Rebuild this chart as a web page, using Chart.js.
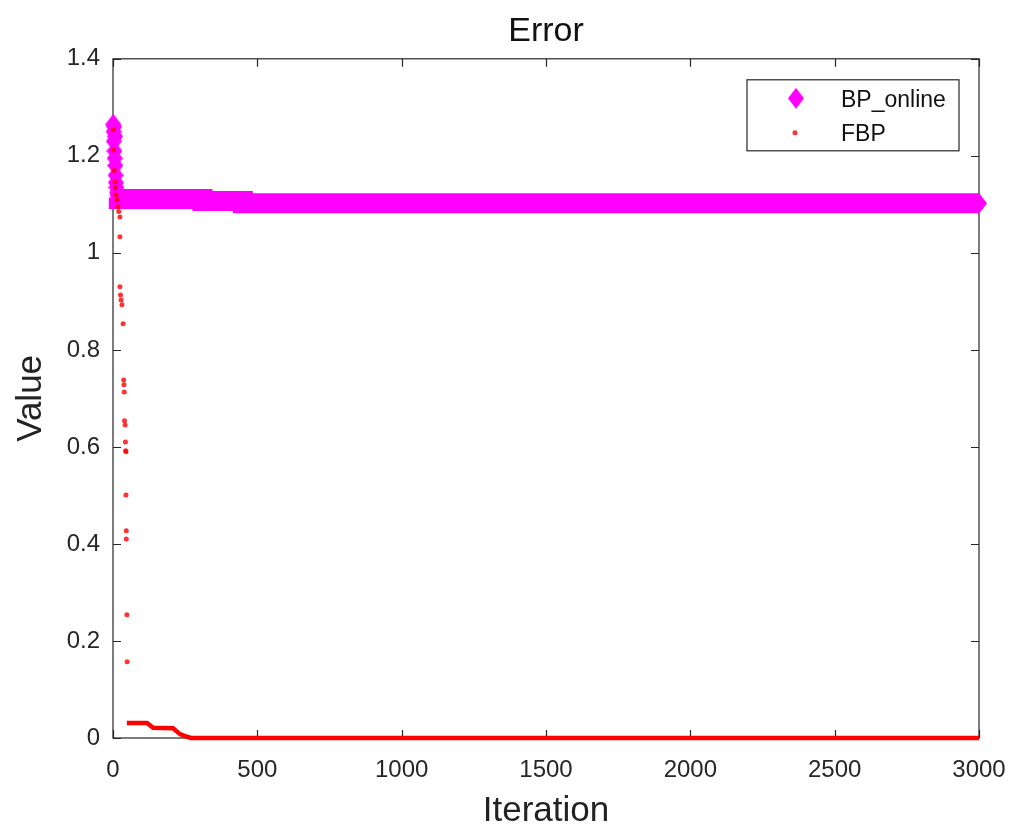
<!DOCTYPE html>
<html>
<head>
<meta charset="utf-8">
<script src="https://cdn.jsdelivr.net/npm/chart.js@4"></script>
<style>
  body { margin: 0; background: #fff; }
  #wrap { width: 1012px; height: 828px; }
</style>
</head>
<body>
<div id="wrap"><canvas id="errChart" width="1012" height="828"></canvas></div>
<script>
// BP_online : premières itérations (losanges isolés)
const bpEarlyIter = [1, 2, 3, 4, 5, 6, 7, 8, 9, 10, 12, 14, 16, 18, 20];
const bpEarlyVal  = [1.265, 1.25, 1.23, 1.26, 1.21, 1.195, 1.24, 1.18, 1.16, 1.145, 1.135, 1.125, 1.12, 1.117, 1.115];
// BP_online : palier (bande épaisse de losanges)
const bpBandIter = [20, 310, 450, 560, 3000];
const bpBandVal  = [1.114, 1.111, 1.107, 1.102, 1.102];

// FBP : points dispersés au début
const fbpEarlyIter = [0, 1, 4, 7, 8, 10, 14, 17, 20, 24, 24, 24, 26, 28, 31, 35, 37, 38, 39, 40, 42, 43, 44, 45, 45, 46, 46, 48, 49];
const fbpEarlyVal  = [1.254, 1.212, 1.17, 1.146, 1.134, 1.12, 1.109, 1.095, 1.085, 1.074, 1.033, 0.930, 0.913, 0.903, 0.893, 0.854, 0.738, 0.728, 0.713, 0.654, 0.645, 0.610, 0.592, 0.590, 0.501, 0.427, 0.410, 0.254, 0.157];
// FBP : traîne (points denses)
const fbpTailIter = [48, 118, 139, 208, 232, 250, 270, 3000];
const fbpTailVal  = [0.031, 0.031, 0.021, 0.020, 0.008, 0.004, 0.0, 0.0];

const xTicks = [0, 500, 1000, 1500, 2000, 2500, 3000];
const yTicks = [0, 0.2, 0.4, 0.6, 0.8, 1.0, 1.2, 1.4];
const legendLabels = ['BP_online', 'FBP'];

const MAGENTA = '#ff00ff';
const RED = 'rgba(255, 0, 0, 0.8)';
const FONT = "'Liberation Sans', Arial, sans-serif";

const toPts = (xs, ys) => xs.map((v, i) => ({ x: v, y: ys[i] }));
const fmt = v => String(Math.round(v * 10) / 10);

// losange façon MATLAB (plus haut que large)
const diamond = document.createElement('canvas');
diamond.width = 16; diamond.height = 21;
(() => {
    const c = diamond.getContext('2d');
    c.fillStyle = MAGENTA;
    c.beginPath();
    c.moveTo(8, 0); c.lineTo(16, 10.5); c.lineTo(8, 21); c.lineTo(0, 10.5);
    c.closePath(); c.fill();
})();

// cadre + graduations vers l'intérieur
const boxPlugin = {
    id: 'boxTicks',
    beforeDatasetsDraw(chart) {
        const { ctx, chartArea: a, scales: { x, y } } = chart;
        ctx.save();
        ctx.strokeStyle = '#262626';
        ctx.lineWidth = 1.2;
        ctx.strokeRect(a.left, a.top, a.right - a.left, a.bottom - a.top);
        ctx.beginPath();
        xTicks.forEach(t => {
            const px = Math.round(x.getPixelForValue(t)) + 0.5;
            ctx.moveTo(px, a.bottom); ctx.lineTo(px, a.bottom - 8);
            ctx.moveTo(px, a.top); ctx.lineTo(px, a.top + 8);
        });
        yTicks.forEach(t => {
            const py = Math.round(y.getPixelForValue(t)) + 0.5;
            ctx.moveTo(a.left, py); ctx.lineTo(a.left + 8, py);
            ctx.moveTo(a.right, py); ctx.lineTo(a.right - 8, py);
        });
        ctx.stroke();
        ctx.restore();
    }
};

// légende encadrée en haut à droite
const legendPlugin = {
    id: 'boxLegend',
    afterDatasetsDraw(chart) {
        const { ctx, chartArea: a } = chart;
        const w = 212, h = 71;
        const lx = a.right - 20 - w, ly = a.top + 21;
        ctx.save();
        ctx.fillStyle = '#fff';
        ctx.fillRect(lx, ly, w, h);
        ctx.strokeStyle = '#262626';
        ctx.lineWidth = 1.2;
        ctx.strokeRect(lx, ly, w, h);
        ctx.drawImage(diamond, lx + 41, ly + 8);
        ctx.fillStyle = RED;
        ctx.beginPath(); ctx.arc(lx + 48, ly + 53, 2.5, 0, Math.PI * 2); ctx.fill();
        ctx.fillStyle = '#111';
        ctx.font = `23px ${FONT}`;
        ctx.textBaseline = 'middle';
        ctx.fillText(legendLabels[0], lx + 94, ly + 21);
        ctx.fillText(legendLabels[1], lx + 94, ly + 55);
        ctx.restore();
    }
};

new Chart(document.getElementById('errChart'), {
    type: 'scatter',
    data: {
        datasets: [
            {
                label: legendLabels[1],
                data: toPts(fbpEarlyIter, fbpEarlyVal),
                showLine: false,
                clip: false,
                pointRadius: 2.5,
                pointBackgroundColor: RED,
                pointBorderWidth: 0
            },
            {
                label: legendLabels[1] + ' tail',
                data: toPts(fbpTailIter, fbpTailVal),
                showLine: true,
                clip: false,
                borderColor: '#ff0000',
                borderWidth: 4.5,
                pointRadius: 0
            },
            {
                label: legendLabels[0],
                data: toPts(bpEarlyIter, bpEarlyVal),
                showLine: false,
                clip: false,
                pointStyle: diamond
            },
            {
                label: legendLabels[0] + ' band',
                data: toPts(bpBandIter, bpBandVal),
                showLine: true,
                clip: false,
                stepped: 'after',
                borderColor: MAGENTA,
                borderWidth: 20,
                borderCapStyle: 'butt',
                pointStyle: diamond,
                pointRadius: ctx => (ctx.dataIndex === bpBandIter.length - 1 ? 8 : 0)
            }
        ]
    },
    options: {
        responsive: false,
        animation: false,
        devicePixelRatio: 1,
        layout: { padding: { left: 0, right: 33, top: 0, bottom: 0 } },
        plugins: {
            legend: { display: false },
            tooltip: { enabled: false },
            title: {
                display: true,
                fullSize: false,
                text: 'Error',
                color: '#111',
                font: { family: FONT, size: 34, weight: 'normal' },
                padding: { top: 11, bottom: 7 }
            }
        },
        scales: {
            x: {
                type: 'linear',
                min: 0, max: 3000,
                afterFit: s => { s.height = 90; s.paddingRight = 0; s.paddingLeft = 0; },
                afterBuildTicks: s => { s.ticks = xTicks.map(v => ({ value: v })); },
                grid: { display: false, drawTicks: false },
                border: { display: false },
                ticks: { color: '#262626', font: { family: FONT, size: 24 }, padding: 18, maxRotation: 0, callback: v => String(v) },
                title: {
                    display: true, text: 'Iteration', color: '#222',
                    font: { family: FONT, size: 35 }, padding: { top: 0, bottom: -4 }
                }
            },
            y: {
                type: 'linear',
                min: 0, max: 1.4,
                afterFit: s => { s.width = 113; },
                afterBuildTicks: s => { s.ticks = yTicks.map(v => ({ value: v })); },
                grid: { display: false, drawTicks: false },
                border: { display: false },
                ticks: { color: '#262626', font: { family: FONT, size: 24 }, padding: 13, callback: v => fmt(v) },
                title: {
                    display: true, text: 'Value', color: '#222',
                    font: { family: FONT, size: 35 }, padding: { top: 10, bottom: 0 }
                }
            }
        }
    },
    plugins: [boxPlugin, legendPlugin]
});
</script>
</body>
</html>
